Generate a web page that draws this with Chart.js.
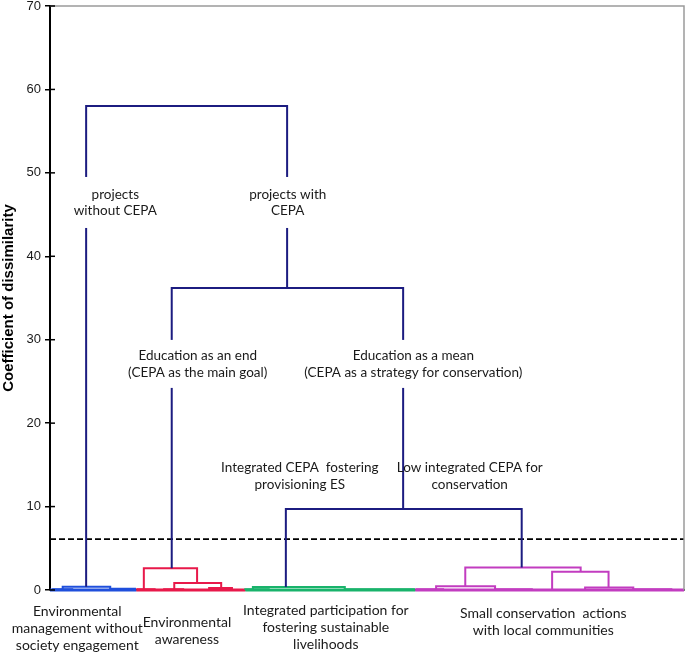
<!DOCTYPE html>
<html>
<head>
<meta charset="utf-8">
<script src="https://cdn.jsdelivr.net/npm/chart.js@4.4.1/dist/chart.umd.min.js"></script>
<style>
  body { margin: 0; background: #fff; }
  canvas { display: block; }
</style>
</head>
<body>
<canvas id="dendro" width="685" height="653"></canvas>
<script>
// merges: [x gauche, x droite, hauteur, hauteur enfant gauche, hauteur enfant droit]
const mainLinks = [
    [5.7, 37.4, 58.0, 0.4, 36.2],
    [19.2, 55.7, 36.2, 2.6, 9.7],
    [37.2, 74.4, 9.7, 0.35, 2.7]
];
const mgmtLinks = [
    [2.0, 9.5, 0.4, 0.1, 0.15],
    [0.5, 3.5, 0.1, 0, 0],
    [9.5, 13.4, 0.15, 0, 0]
];
const awarenessLinks = [
    [14.8, 23.2, 2.6, 0.1, 0.85],
    [19.6, 27.0, 0.85, 0.1, 0.25],
    [25.1, 28.7, 0.25, 0, 0],
    [13.8, 16.5, 0.1, 0, 0],
    [18.0, 21.0, 0.1, 0, 0]
];
const livelihoodLinks = [
    [32.0, 46.5, 0.35, 0.1, 0.1],
    [46.5, 57.4, 0.1, 0, 0],
    [30.8, 34.5, 0.1, 0, 0]
];
const communityLinks = [
    [65.5, 83.7, 2.7, 0.45, 2.2],
    [60.9, 70.2, 0.45, 0.1, 0.1],
    [79.2, 88.1, 2.2, 0.1, 0.3],
    [84.4, 92.0, 0.3, 0.1, 0.1],
    [92.0, 98.0, 0.1, 0, 0],
    [70.2, 76.0, 0.1, 0, 0],
    [57.8, 62.0, 0.1, 0, 0]
];
// étendue des feuilles de chaque groupe sur l'axe x
const groupSpans = [[0, 13.6], [13.6, 30.8], [30.8, 57.6], [57.6, 100]];
const groupLabels = [
    ['Environmental', 'management without', 'society engagement'],
    ['Environmental', 'awareness'],
    ['Integrated participation for', 'fostering sustainable', 'livelihoods'],
    ['Small conservation  actions', 'with local communities']
];
const groupLabelX = [4.3, 21.6, 43.5, 77.8];

const nodeLabels = [
    ['projects', 'without CEPA'],
    ['projects with', 'CEPA'],
    ['Education as an end', '(CEPA as the main goal)'],
    ['Education as a mean', '(CEPA as a strategy for conservation)'],
    ['Integrated CEPA  fostering', 'provisioning ES'],
    ['Low integrated CEPA for', 'conservation']
];
const nodeLabelX = [10.3, 37.5, 23.3, 57.3, 39.4, 66.2];
const nodeLabelY = [46.45, 46.45, 27.1, 27.1, 13.66, 13.66];

const cutLevel = 6.1;
const yTicks = [0, 10, 20, 30, 40, 50, 60, 70];

// mise en page / styles
const NAVY = '#1c1c80';
const groupColors = ['#1f4fdc', '#e8194a', '#19b36b', '#c23cc0'];
const groupLabelTop = [611, 622, 610, 613];
const LABEL_FONT = '13.5px Lato';

function linkDataset(link, color, width) {
    const [xl, xr, h, hl, hr] = link;
    return {
        data: [{ x: xl, y: hl }, { x: xl, y: h }, { x: xr, y: h }, { x: xr, y: hr }],
        showLine: true,
        borderColor: color,
        borderWidth: width,
        pointRadius: 0,
        tension: 0,
        clip: false
    };
}

const datasets = [];
mainLinks.forEach(l => datasets.push(linkDataset(l, NAVY, 2)));
[mgmtLinks, awarenessLinks, livelihoodLinks, communityLinks].forEach((links, g) => {
    links.forEach(l => datasets.push(linkDataset(l, groupColors[g], 2)));
});
groupSpans.forEach((s, g) => {
    datasets.push({
        data: [{ x: s[0], y: 0 }, { x: s[1], y: 0 }],
        showLine: true, borderColor: groupColors[g], borderWidth: 3,
        pointRadius: 0, clip: false
    });
});
datasets.push({
    data: [{ x: 0, y: cutLevel }, { x: 100, y: cutLevel }],
    showLine: true, borderColor: '#000', borderWidth: 1.6,
    borderDash: [6, 3], pointRadius: 0
});

const decorPlugin = {
    id: 'decor',
    afterDatasetsDraw(chart) {
        const { ctx, chartArea: a, scales } = chart;
        ctx.save();
        // cadre gris haut et droite
        ctx.strokeStyle = '#9a9a9a';
        ctx.lineWidth = 1.5;
        ctx.beginPath();
        ctx.moveTo(a.left, a.top);
        ctx.lineTo(a.right, a.top);
        ctx.lineTo(a.right, a.bottom);
        ctx.stroke();
        // petites graduations vers l'intérieur
        ctx.strokeStyle = '#000';
        ctx.lineWidth = 1.5;
        yTicks.forEach(t => {
            const y = scales.y.getPixelForValue(t);
            ctx.beginPath();
            ctx.moveTo(a.left, y);
            ctx.lineTo(a.left + 5, y);
            ctx.stroke();
        });
        // étiquettes des noeuds (fond blanc pour les deux premiers niveaux)
        ctx.font = LABEL_FONT;
        ctx.textAlign = 'center';
        ctx.textBaseline = 'middle';
        nodeLabels.forEach((lines, i) => {
            const cx = scales.x.getPixelForValue(nodeLabelX[i]);
            const cy = scales.y.getPixelForValue(nodeLabelY[i]);
            const lh = 16.5;
            if (i < 4) {
                const w = Math.max(...lines.map(s => ctx.measureText(s).width)) + 14;
                const h = lines.length * lh + (i < 2 ? 18 : 15);
                ctx.fillStyle = '#fff';
                ctx.fillRect(cx - w / 2, cy - h / 2, w, h);
            }
            ctx.fillStyle = '#1a1a1a';
            lines.forEach((s, k) => {
                ctx.fillText(s, cx, cy + (k - (lines.length - 1) / 2) * lh);
            });
        });
        ctx.restore();
    },
    afterDraw(chart) {
        const { ctx, scales } = chart;
        ctx.save();
        ctx.font = '14px Lato';
        ctx.fillStyle = '#1a1a1a';
        ctx.textAlign = 'center';
        ctx.textBaseline = 'middle';
        groupLabels.forEach((lines, i) => {
            const cx = scales.x.getPixelForValue(groupLabelX[i]);
            lines.forEach((s, k) => ctx.fillText(s, cx, groupLabelTop[i] + k * 17));
        });
        ctx.restore();
    }
};

new Chart(document.getElementById('dendro'), {
    type: 'scatter',
    data: { datasets },
    options: {
        responsive: false,
        animation: false,
        layout: { padding: { top: 6, right: 1, left: 0, bottom: 0 } },
        plugins: { legend: { display: false }, tooltip: { enabled: false } },
        scales: {
            x: {
                type: 'linear', min: 0, max: 100,
                ticks: { display: false },
                grid: { display: false },
                border: { color: '#000', width: 1.5 },
                afterFit(scale) { scale.height = 63; }
            },
            y: {
                min: 0, max: 70,
                afterBuildTicks(scale) { scale.ticks = yTicks.map(v => ({ value: v })); },
                ticks: { color: '#1a1a1a', font: { family: 'Liberation Sans', size: 13 }, padding: 4 },
                grid: { drawOnChartArea: false, tickLength: 5, color: '#000', lineWidth: 1.5 },
                border: { color: '#000', width: 2 },
                title: {
                    display: true,
                    text: 'Coefficient of dissimilarity',
                    color: '#000',
                    font: { family: 'Liberation Sans', size: 15, weight: 'bold' },
                    padding: { top: 0, bottom: 2 }
                },
                afterFit(scale) {
                    scale.width = 50;
                    scale.paddingTop = 0;
                    scale.paddingBottom = 0;
                }
            }
        }
    },
    plugins: [decorPlugin]
});
</script>
</body>
</html>
